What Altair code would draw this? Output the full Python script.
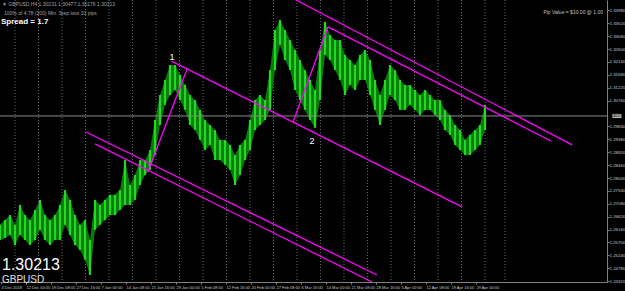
import altair as alt
import pandas as pd

# ---- price columns (bar index, high, low) ----
high = [1.2633,1.2650,1.2668,1.2633,1.2704,1.2668,1.2650,1.2686,1.2722,1.2668,
        1.2650,1.2668,1.2704,1.2757,1.2722,1.2668,1.2633,1.2650,1.2579,1.2722,
        1.2704,1.2722,1.2740,1.2740,1.2757,1.2864,1.2775,1.2811,1.2864,1.2864,
        1.2900,1.3007,1.3096,1.3150,1.3203,1.3203,1.3168,1.3132,1.3096,1.3078,
        1.3043,1.3007,1.2989,1.2971,1.2936,1.2936,1.2918,1.2882,1.2918,1.2936,
        1.3007,1.3078,1.3096,1.3078,1.3185,1.3328,1.3364,1.3328,1.3292,1.3257,
        1.3221,1.3185,1.3150,1.3114,1.3257,1.3357,1.3310,1.3292,1.3292,1.3239,
        1.3221,1.3203,1.3239,1.3257,1.3221,1.3150,1.3096,1.3150,1.3203,1.3185,
        1.3150,1.3132,1.3132,1.3114,1.3096,1.3114,1.3096,1.3078,1.3078,1.3043,
        1.3025,1.2989,1.2971,1.2936,1.2954,1.2971,1.2989,1.3061]
low = [1.2579,1.2586,1.2597,1.2561,1.2597,1.2579,1.2561,1.2579,1.2615,1.2579,
       1.2561,1.2579,1.2579,1.2633,1.2597,1.2561,1.2543,1.2508,1.2454,1.2615,
       1.2633,1.2650,1.2668,1.2668,1.2686,1.2704,1.2704,1.2722,1.2775,1.2811,
       1.2829,1.2882,1.2989,1.3061,1.3096,1.3114,1.3078,1.3043,1.2989,1.2971,
       1.2936,1.2900,1.2918,1.2864,1.2864,1.2847,1.2829,1.2775,1.2811,1.2864,
       1.2900,1.2971,1.2989,1.3007,1.3043,1.3185,1.3275,1.3221,1.3185,1.3114,
       1.3078,1.3043,1.3007,1.2979,1.3078,1.3239,1.3221,1.3185,1.3150,1.3096,
       1.3132,1.3114,1.3150,1.3150,1.3096,1.3043,1.2989,1.3043,1.3096,1.3078,
       1.3043,1.3043,1.3061,1.3043,1.3025,1.3043,1.3043,1.3025,1.3007,1.2971,
       1.2954,1.2918,1.2900,1.2882,1.2882,1.2900,1.2918,1.2971]
bar_index = list(range(len(high)))

current_price = 1.30213

# ---- price axis labels ----
price_ticks = [1.33980,1.33520,1.33060,1.32600,1.32140,1.31680,1.31220,1.30760,
               1.29840,1.29380,1.28920,1.28460,1.28000,1.27540,1.27080,
               1.26620,1.26160,1.25700,1.25240,1.24780,1.24320]

# ---- time axis labels ----
time_labels = ["4 Dec 2018","12 Dec 00:00","19 Dec 08:00","27 Dec 16:00","7 Jan 00:00",
               "14 Jan 08:00","21 Jan 16:00","29 Jan 00:00","5 Feb 08:00","12 Feb 16:00",
               "20 Feb 00:00","27 Feb 08:00","6 Mar 16:00","14 Mar 00:00","21 Mar 08:00",
               "28 Mar 16:00","5 Apr 00:00","12 Apr 08:00","19 Apr 16:00","29 Apr 00:00"]
time_label_index = [0.2,5.2,10.2,15.2,20.2,25.2,30.2,35.2,40.2,45.2,
                    50.2,55.2,60.2,65.2,70.2,75.2,80.2,85.2,90.2,95.2]
grid_index = [3.0,7.7,12.4,17.1,21.8,26.5,31.2,35.9,40.6,45.3,50.0,54.7,59.4,64.1,
              68.8,73.5,78.2,82.9,87.6,92.3,97.0,101.0]

# ---- trend lines: (line id, bar index, price) ----
line_id   = ["a","a","b","b","c","c","d","d","e","e","f","f","g","g"]
line_x    = [34.3,92.4, 29.6,37.4, 58.6,65.6, 59.2,114.4, 65.6,110.2, 17.2,75.4, 19.0,74.4]
line_p    = [1.3217,1.2697, 1.2822,1.3189, 1.3000,1.3339, 1.3435,1.2918,
             1.3339,1.2932, 1.2964,1.2454, 1.2922,1.2429]

# ---- wave labels ----
wave_text = ["1","2"]
wave_x = [34.4, 62.4]
wave_p = [1.3217, 1.2918]

X_DOM = [0, 121.4]
Y_DOM = [1.2429, 1.3435]

bars = pd.DataFrame({"i": bar_index, "high": high, "low": low})
lines = pd.DataFrame({"id": line_id, "i": line_x, "p": line_p})
waves = pd.DataFrame({"t": wave_text, "i": wave_x, "p": wave_p})

lab_arr = "[" + ",".join("'" + s + "'" for s in time_labels) + "]"
idx_arr = "[" + ",".join(str(v) for v in time_label_index) + "]"
label_expr = f"{lab_arr}[indexof({idx_arr}, datum.value)]"

xs = alt.Scale(domain=X_DOM, nice=False, zero=False)
ys = alt.Scale(domain=Y_DOM, nice=False, zero=False)

x_axis = alt.Axis(values=time_label_index, labelExpr=label_expr, orient="bottom",
                  labelFontSize=4, labelColor="#c8c8c8", labelAlign="left",
                  labelPadding=1, tickSize=2, tickColor="#808080",
                  domainColor="#808080", grid=False, title=None, labelFlush=False,
                  labelOverlap=False, labelBound=False, labelFont="Liberation Sans")
y_axis = alt.Axis(values=price_ticks, orient="right", format=".5f",
                  labelFontSize=4.4, labelColor="#c8c8c8", labelPadding=0,
                  tickSize=2, tickColor="#808080", domainColor="#808080",
                  grid=False, title=None, labelFont="Liberation Sans",
                  labelOverlap=False, labelBound=False, labelFlush=False)

X = lambda f: alt.X(f, scale=xs, axis=x_axis)
Y = lambda f: alt.Y(f, scale=ys, axis=y_axis)

grid = alt.Chart(pd.DataFrame({"i": grid_index})).mark_rule(
    color="#6a6a6a", strokeDash=[1, 2], strokeWidth=1).encode(x=X("i:Q"))

price_band = alt.Chart(bars).mark_area(color="#0b7a0b", opacity=1).encode(
    x=X("i:Q"), y=Y("low:Q"), y2="high:Q")

price_bars = alt.Chart(bars).mark_rule(color="#22d822", strokeWidth=2.2).encode(
    x=X("i:Q"), y=Y("low:Q"), y2="high:Q")

cur_line = alt.Chart(pd.DataFrame({"p": [current_price]})).mark_rule(
    color="#8a8a8a", strokeWidth=1).encode(y=Y("p:Q"))

tl = alt.Chart(lines).mark_line(color="#ff00ff", strokeWidth=1.3, clip=True).encode(
    x=X("i:Q"), y=Y("p:Q"), detail="id:N")

wv = alt.Chart(waves).mark_text(color="white", fontSize=9, font="Liberation Sans",
                                 dy=-4).encode(x=X("i:Q"), y=Y("p:Q"), text="t:N")

cur_box = alt.Chart(pd.DataFrame({"p": [current_price]})).mark_point(
    shape="M-1.1,-0.5L1.1,-0.5L1.1,0.5L-1.1,0.5Z", filled=True, opacity=1,
    color="#b4b4b4", size=70, clip=False).encode(x=alt.value(617), y=Y("p:Q"))
cur_txt = alt.Chart(pd.DataFrame({"p": [current_price], "t": ["1.30213"]})).mark_text(
    fontSize=4.4, color="#000000", align="left", font="Liberation Sans").encode(
    x=alt.value(609), y=Y("p:Q"), text="t:N")

def txt(s, x, y, size, color, weight="normal", align="left"):
    return alt.Chart(pd.DataFrame({"t": [s]})).mark_text(
        fontSize=size, color=color, fontWeight=weight, align=align,
        baseline="alphabetic", font="Liberation Sans").encode(
        x=alt.value(x), y=alt.value(y), text="t:N")

texts = [
    txt("▼ GBPUSD,H4  1.30231 1.30477 1.30176 1.30213", 2, 6, 5, "#a0a0a0"),
    txt("100% of 4.78 (200)    Min. Step loss    33 pips", 4, 15, 5, "#a0a0a0"),
    txt("Spread = 1.7", 1, 24, 8, "#ffffff", "bold"),
    txt("Pip Value = $10.00 @ 1.00", 603, 14, 5, "#c0c0c0", align="right"),
    txt("1.30213", 2, 270, 16, "#ffffff"),
    txt("GBPUSD", 2, 283, 10, "#e0e0e0"),
]

chart = alt.layer(grid, price_band, price_bars, cur_line, tl, wv, cur_box, cur_txt,
                  *texts).properties(
    width=607, height=282, background="#000000",
    padding={"left": 0, "top": 0, "right": 18, "bottom": 9},
    autosize=alt.AutoSizeParams(type="none"),
).configure_view(stroke=None).configure_axis(labelOverlap=False)

chart.save("out.html", embed_options={"renderer": "svg", "actions": False})
